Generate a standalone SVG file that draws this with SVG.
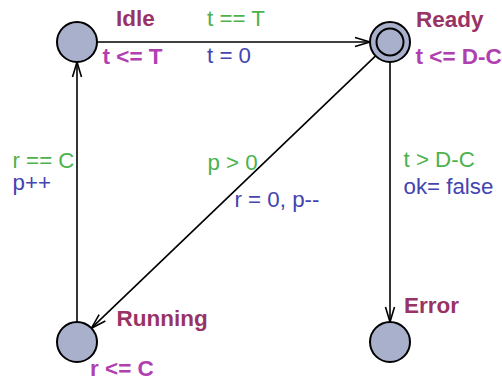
<svg xmlns="http://www.w3.org/2000/svg" width="502" height="381" viewBox="0 0 502 381">
<defs>
<style>
.loc{fill:#a8b0cc;stroke:#000;stroke-width:2}
.edge{fill:none;stroke:#000;stroke-width:1.6}
.name{font-family:"Liberation Sans",Arial,sans-serif;font-weight:bold;font-size:22.5px;fill:#993366}
.inv{font-family:"Liberation Sans",Arial,sans-serif;font-weight:bold;font-size:22.5px;fill:#b040b0}
.guard{font-family:"Liberation Sans",Arial,sans-serif;font-size:22.3px;fill:#4cb24c}
.assign{font-family:"Liberation Sans",Arial,sans-serif;font-size:22.3px;fill:#4444b0}
</style>
<marker id="arr" markerUnits="userSpaceOnUse" markerWidth="20" markerHeight="12" viewBox="-16 -6 17 12" refX="0" refY="0" orient="auto" overflow="visible">
<path d="M-15,-4.5 L0,0 L-15,4.5" fill="none" stroke="#000" stroke-width="1.6"/>
</marker>
</defs>
<rect width="502" height="381" fill="#fff"/>
<g id="edges">
<line class="edge" x1="97" y1="42" x2="370" y2="42" marker-end="url(#arr)"/>
<line class="edge" x1="77" y1="322" x2="77" y2="62" marker-end="url(#arr)"/>
<line class="edge" x1="375.6" y1="55.8" x2="91.4" y2="328.2" marker-end="url(#arr)"/>
<line class="edge" x1="390" y1="62" x2="390" y2="322" marker-end="url(#arr)"/>
<text class="guard" x="207" y="26">t == T</text>
<text class="assign" x="207" y="63">t = 0</text>
<text class="guard" x="12.5" y="168">r == C</text>
<text class="assign" x="12.5" y="190">p++</text>
<text class="guard" x="207.5" y="170">p &gt; 0</text>
<text class="assign" x="234.5" y="207">r = 0, p--</text>
<text class="guard" x="403.5" y="167">t &gt; D-C</text>
<text class="assign" x="403.5" y="194">ok= false</text>
</g>
<g id="Idle">
<circle class="loc" cx="77" cy="42" r="20"/>
<text class="name" x="116" y="26">Idle</text>
<text class="inv" x="102.5" y="64">t &lt;= T</text>
</g>
<g id="Ready">
<circle class="loc" cx="390" cy="42" r="20"/>
<circle class="loc" cx="390" cy="42" r="13.5"/>
<text class="name" x="416" y="26.5">Ready</text>
<text class="inv" x="415.5" y="63.5">t &lt;= D-C</text>
</g>
<g id="Running">
<circle class="loc" cx="77" cy="342" r="20"/>
<text class="name" x="116.5" y="326">Running</text>
<text class="inv" x="90" y="376">r &lt;= C</text>
</g>
<g id="Error">
<circle class="loc" cx="390" cy="342" r="20"/>
<text class="name" x="404" y="313">Error</text>
</g>
</svg>
